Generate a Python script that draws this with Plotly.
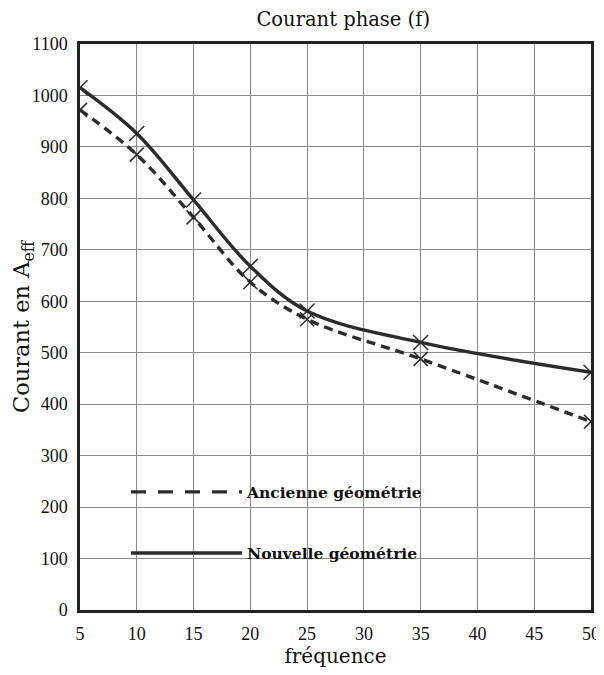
import plotly.graph_objects as go

frequence = [5, 10, 15, 20, 25, 35, 50]
ancienne = [972, 885, 763, 637, 565, 488, 366]
nouvelle = [1015, 926, 797, 668, 581, 520, 462]
x_ticks = [5, 10, 15, 20, 25, 30, 35, 40, 45, 50]
y_ticks = list(range(0, 1101, 100))

SERIF = "Liberation Serif"
WIDE = "DejaVu Serif"
INK = "#2b2b2b"

fig = go.Figure()
fig.add_trace(go.Scatter(x=frequence, y=ancienne, mode="lines+markers", line_shape="spline",
                         line=dict(color=INK, width=3.4, dash="9px,6px"),
                         marker=dict(symbol="x-thin", size=14, line=dict(color=INK, width=1.5)),
                         showlegend=False))
fig.add_trace(go.Scatter(x=frequence, y=nouvelle, mode="lines+markers", line_shape="spline",
                         line=dict(color=INK, width=3.4),
                         marker=dict(symbol="x-thin", size=15, line=dict(color=INK, width=1.5)),
                         showlegend=False))
# legend-only entries
fig.add_trace(go.Scatter(x=[None], y=[None], mode="lines", name="Ancienne géométrie",
                         line=dict(color=INK, width=3.4, dash="15px,12px"), legendgroup="a"))
fig.add_trace(go.Scatter(x=[None], y=[None], mode="lines", name="Nouvelle géométrie",
                         line=dict(color=INK, width=3.4), legendgroup="b"))

fig.update_layout(
    width=604, height=675,
    margin=dict(l=72, r=21, t=36, b=73),
    paper_bgcolor="white", plot_bgcolor="white",
    font=dict(family=SERIF, color="#111", size=18),
    title=dict(text="Courant phase (f)", x=0.555, xanchor="center", y=0.983, yanchor="middle",
               font=dict(family=WIDE, size=19.5, color="#111")),
    legend=dict(x=0.09, y=0.238, xanchor="left", yanchor="top", bgcolor="rgba(0,0,0,0)",
                itemwidth=111, tracegroupgap=38,
                font=dict(family=WIDE, size=15.5, color="#111", weight="bold")),
    xaxis=dict(range=[5, 50], tickvals=x_ticks, showgrid=True, gridcolor="#8a8a8a", gridwidth=1,
               showline=True, linecolor="#222", linewidth=2.5, mirror=True, zeroline=False,
               ticks="", tickfont=dict(family=SERIF, size=18), automargin=False,
               ticklabelstandoff=6,
               title=dict(text="fréquence", font=dict(family=WIDE, size=20), standoff=6)),
    yaxis=dict(range=[0, 1100], tickvals=y_ticks, showgrid=True, gridcolor="#8a8a8a", gridwidth=1,
               showline=True, linecolor="#222", linewidth=2.5, mirror=True, zeroline=False,
               ticks="", tickfont=dict(family=SERIF, size=18), automargin=False,
               ticklabelstandoff=6,
               title=dict(text="Courant en A<sub>eff</sub>", font=dict(family=WIDE, size=22.5), standoff=9)),
)

fig.write_html("out.html")
